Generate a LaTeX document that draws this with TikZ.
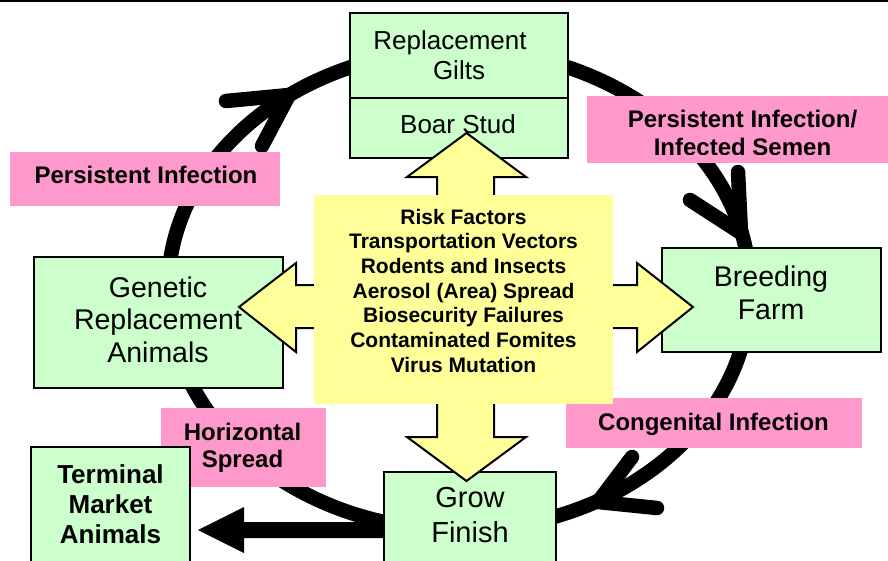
\documentclass[tikz,border=0pt]{standalone}
\usepackage{fontspec}
\setmainfont{Liberation Sans}
\usetikzlibrary{calc}
\definecolor{boxgreen}{HTML}{CCFFCC}
\definecolor{labelpink}{HTML}{FF99CC}
\definecolor{riskyellow}{HTML}{FFFF99}
\begin{document}
\begin{tikzpicture}[x=1pt,y=-1pt,
  ringline/.style={line width=14.5pt, line cap=round, line join=round},
  greenbox/.style={draw=black, line width=2pt, fill=boxgreen, inner sep=0pt},
  pinkbox/.style={fill=labelpink, inner sep=0pt},
  yarrow/.style={draw=black, line width=2pt, fill=riskyellow, line join=miter},
  plaintxt/.style={inner sep=0pt, align=center},
  boldtxt/.style={inner sep=0pt, align=center, font=\bfseries\fontsize{24}{27}\selectfont}]
\useasboundingbox (0,0) rectangle (888,560);
% top border
\draw[line width=2pt] (0,1) -- (888,1);
% cycle ring
\draw[line width=14.5pt] (459,290) ellipse [x radius=291pt, y radius=240pt];
% ring arrowheads
\draw[ringline] (226,101) -- (289,95) -- (262,146);
\draw[ringline] (738,172) -- (741,233) -- (690,200);
\draw[ringline] (632,457) -- (598,502) -- (657,508);
% pink labels
\node[pinkbox, minimum width=270pt, minimum height=54pt] (pinkPI) at (145,179) {};
\node[pinkbox, minimum width=301pt, minimum height=67pt] (pinkSemen) at (737.5,129.5) {};
\node[pinkbox, minimum width=165pt, minimum height=79pt] (pinkHoriz) at (243.5,447.5) {};
\node[pinkbox, minimum width=296pt, minimum height=50pt] (pinkCong) at (714,423) {};
% green boxes
\node[greenbox, minimum width=218pt, minimum height=85pt] (gilts) at (459,55.5) {};
\node[greenbox, minimum width=218pt, minimum height=60pt] (boar) at (459,128) {};
\node[greenbox, minimum width=249pt, minimum height=131pt] (genetic) at (158.5,322.5) {};
\node[greenbox, minimum width=219pt, minimum height=104pt] (breeding) at (771.5,300) {};
\node[greenbox, minimum width=159pt, minimum height=166pt] (term) at (110.5,530) {};
\node[greenbox, minimum width=172pt, minimum height=116pt] (grow) at (470,530) {};
% market arrow
\fill[black] ([yshift=8pt]grow.west) -- ([xshift=53pt,yshift=8pt]term.east)
  -- ([xshift=53pt,yshift=23pt]term.east) -- ([xshift=7pt]term.east)
  -- ([xshift=53pt,yshift=-23pt]term.east) -- ([xshift=53pt,yshift=-8pt]term.east)
  -- ([yshift=-8pt]grow.west) -- cycle;
% yellow risk arrows
\draw[yarrow] (437,200) -- (437,177) -- (407,177) -- (466.5,133) -- (526,177) -- (494,177) -- (494,200);
\draw[yarrow] (437,399) -- (437,437) -- (407,437) -- (466.5,481) -- (526,437) -- (494,437) -- (494,399);
\draw[yarrow] (319,285) -- (296,285) -- (296,263) -- (239,307) -- (296,352) -- (296,328) -- (319,328);
\draw[yarrow] (608,285) -- (637,285) -- (637,263) -- (693,307) -- (637,352) -- (637,328) -- (608,328);
\node[fill=riskyellow, inner sep=0pt, minimum width=299pt, minimum height=209pt] (risk) at (463.5,299.5) {};
% texts
\node[plaintxt, font=\fontsize{26}{30}\selectfont] (giltsT) at (459,55.5) {Replacement\hspace*{18pt}\\Gilts};
\node[plaintxt, font=\fontsize{26}{30}\selectfont] (boarT) at (458,124) {Boar Stud};
\node[plaintxt, font=\fontsize{28.5}{32.5}\selectfont] (geneticT) at (158,319.5) {Genetic\\Replacement\\Animals};
\node[plaintxt, font=\fontsize{28.5}{33}\selectfont] (breedingT) at (771,292.5) {Breeding\\Farm};
\node[plaintxt, font=\fontsize{29}{35}\selectfont] (growT) at (470,515.5) {Grow\\Finish};
\node[plaintxt, font=\bfseries\fontsize{26}{30}\selectfont] (termT) at (110.5,504) {Terminal\\Market\\Animals};
\node[boldtxt] (pinkPIT) at (146,174.5) {Persistent Infection};
\begin{scope}
\clip (587,96) rectangle (888,154);
\node[boldtxt, font=\bfseries\fontsize{24}{28}\selectfont] (pinkSemenT) at (742.5,133.3) {Persistent Infection/\\Infected Semen};
\end{scope}
\node[boldtxt] (pinkHorizT) at (242.5,447.5) {Horizontal\\Spread};
\node[boldtxt] (pinkCongT) at (713.5,424.5) {Congenital Infection};
\node[plaintxt, font=\bfseries\fontsize{21}{24.67}\selectfont] (riskT) at (463.5,290.5) {Risk Factors\\Transportation Vectors\\Rodents and Insects\\Aerosol (Area) Spread\\Biosecurity Failures\\Contaminated Fomites\\Virus Mutation};
\end{tikzpicture}
\end{document}
